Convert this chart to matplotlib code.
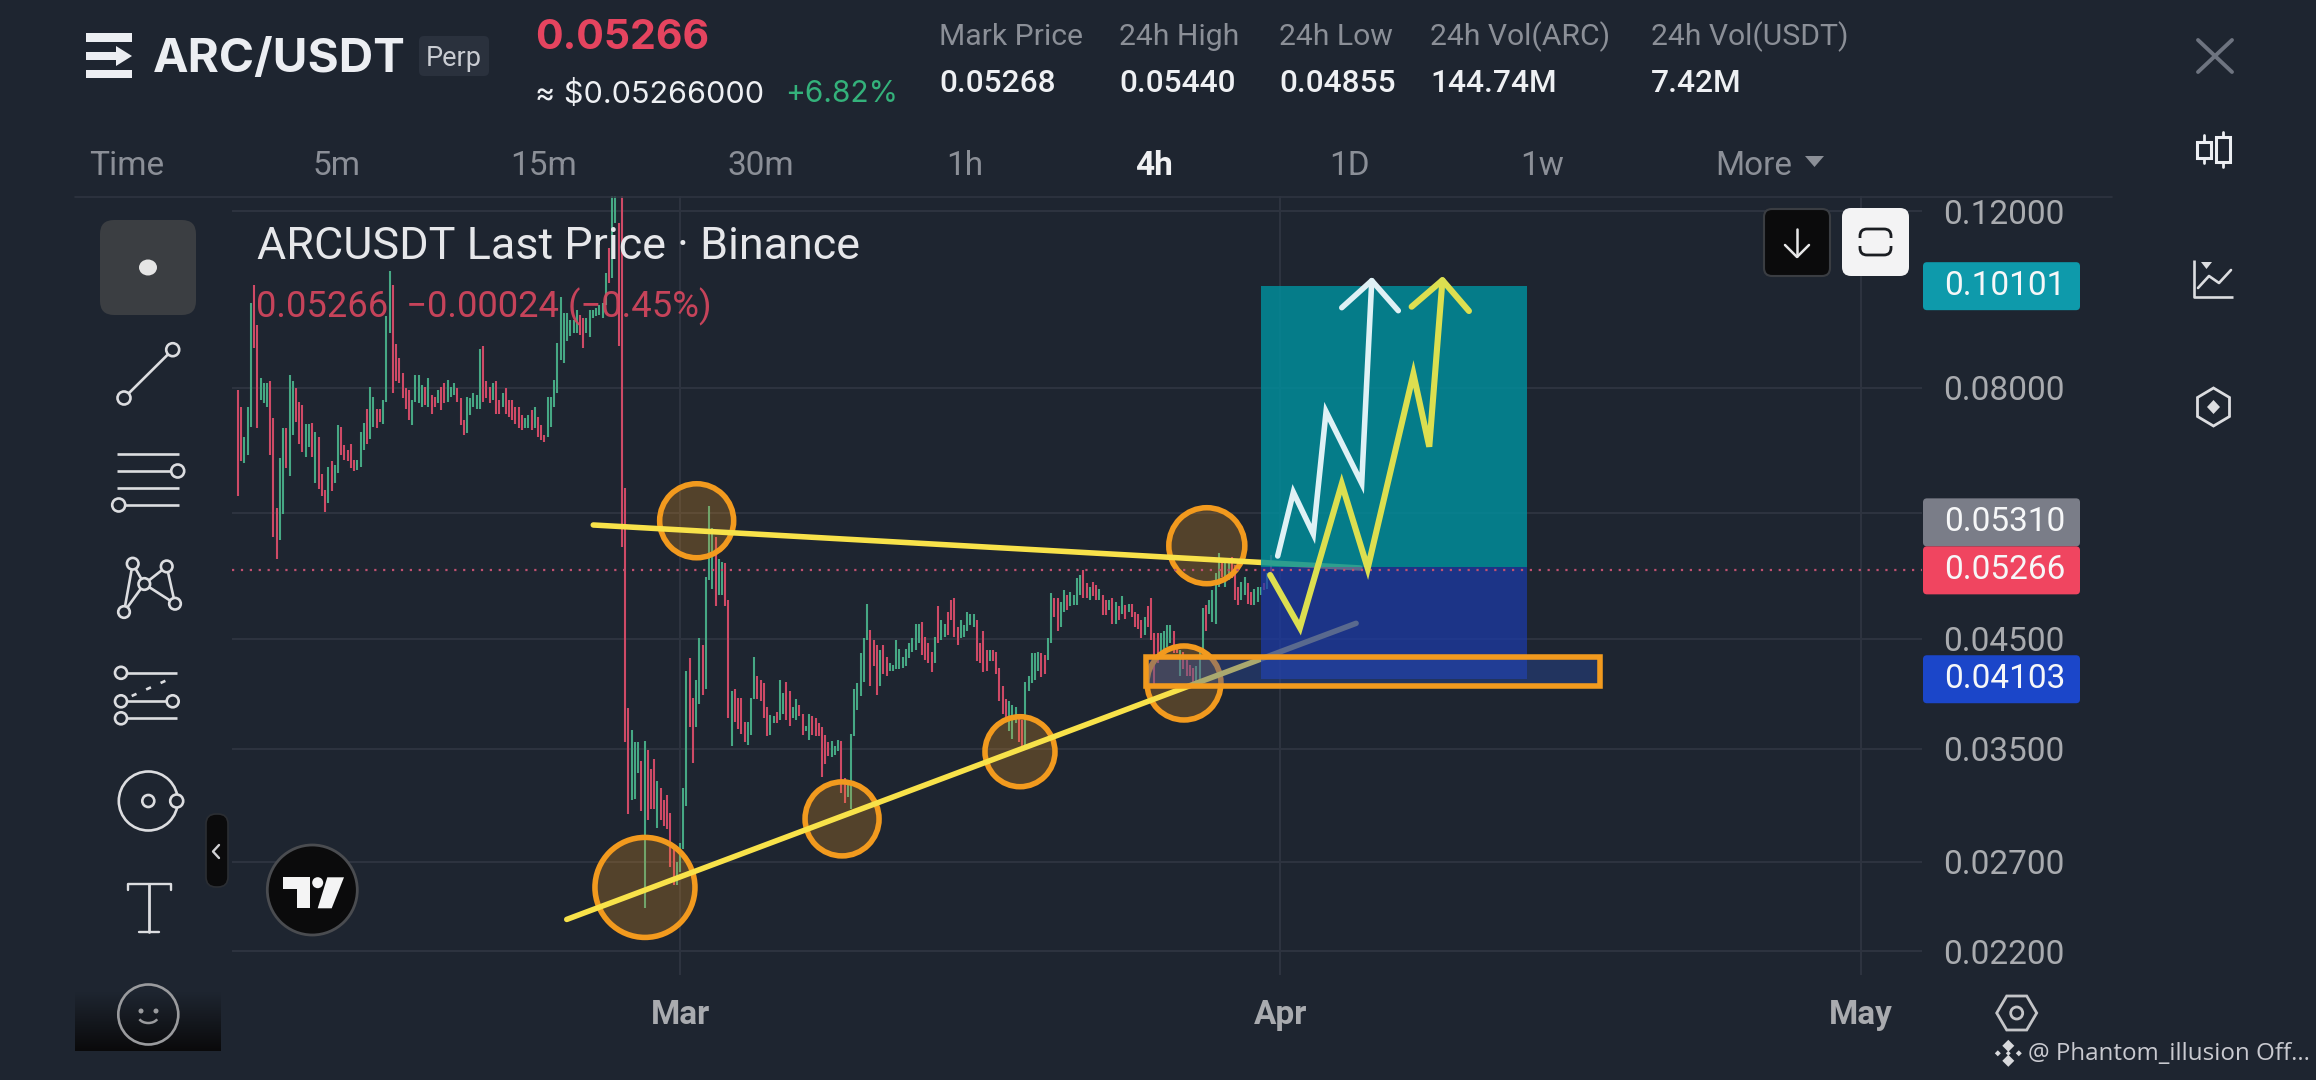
import numpy as np
import matplotlib
matplotlib.use("Agg")
import matplotlib.pyplot as plt
from matplotlib.patches import Circle, Ellipse, FancyBboxPatch, Polygon, Rectangle, Arc

# 4h candles, oldest first
highs = [
    .0796,.0766,.0715,.0766,.0972,.1013,.0925,.0818,.0809,.0809,
    .0812,.0746,.0608,.0681,.0729,.0729,.0824,.0812,.0799,.0775,
    .0769,.0737,.0737,.0739,.0723,.0715,.0656,.0633,.0668,.0676,
    .0670,.0734,.0732,.0702,.0694,.0704,.0678,.0678,.0723,.0739,
    .0763,.0802,.0784,.0763,.0763,.0778,.0943,.1045,.1013,.0884,
    .0857,.0827,.0799,.0796,.0778,.0824,.0824,.0806,.0802,.0818,
    .0787,.0784,.0796,.0802,.0809,.0815,.0802,.0809,.0799,.0781,
    .0743,.0784,.0781,.0790,.0787,.0874,.0880,.0812,.0802,.0809,
    .0812,.0778,.0790,.0799,.0778,.0778,.0766,.0766,.0752,.0746,
    .0752,.0760,.0766,.0749,.0734,.0718,.0784,.0784,.0815,.0887,
    .0986,.0950,.0950,.0935,.0935,.0957,.0946,.0939,.0939,.0957,
    .0957,.0961,.0968,.0972,.1041,.1102,.1300,.1300,.1167,.1300,
    .0636,.0384,.0365,.0355,.0355,.0340,.0356,.0349,.0334,.0342,
    .0325,.0320,.0311,.0315,.0302,.0278,.0270,.0282,.0320,.0418,
    .0431,.0393,.0410,.0451,.0444,.0519,.0610,.0580,.0569,.0541,
    .0537,.0535,.0492,.0399,.0401,.0393,.0393,.0372,.0372,.0393,
    .0432,.0413,.0410,.0407,.0385,.0378,.0377,.0381,.0410,.0398,
    .0408,.0399,.0385,.0392,.0387,.0379,.0369,.0379,.0377,.0375,
    .0371,.0368,.0361,.0355,.0356,.0352,.0357,.0356,.0327,.0325,
    .0362,.0401,.0407,.0436,.0451,.0488,.0459,.0449,.0444,.0439,
    .0444,.0432,.0426,.0424,.0449,.0440,.0432,.0440,.0446,.0451,
    .0466,.0466,.0468,.0452,.0446,.0437,.0452,.0485,.0470,.0466,
    .0479,.0492,.0494,.0463,.0470,.0465,.0479,.0477,.0477,.0470,
    .0446,.0458,.0439,.0439,.0439,.0437,.0421,.0404,.0392,.0390,
    .0387,.0385,.0375,.0374,.0408,.0413,.0436,.0436,.0437,.0436,
    .0434,.0451,.0500,.0494,.0494,.0490,.0503,.0498,.0501,.0498,
    .0517,.0521,.0527,.0511,.0507,.0513,.0509,.0505,.0498,.0492,
    .0492,.0494,.0490,.0485,.0496,.0486,.0488,.0488,.0479,.0477,
    .0470,.0473,.0485,.0494,.0456,.0456,.0456,.0458,.0465,.0465,
    .0458,.0440,.0439,.0437,.0429,.0424,.0421,.0423,.0442,.0483,
    .0486,.0492,.0503,.0523,.0548,.0541,.0539,.0539,.0543,.0533,
    .0507,.0513,.0519,.0511,.0501,.0505,.0507,.0507,.0511,.0523,.0546,
]
lows = [
    .0624,.0676,.0673,.0686,.0732,.0877,.0729,.0778,.0772,.0766,
    .0686,.0568,.0541,.0565,.0599,.0666,.0653,.0718,.0740,.0704,
    .0691,.0683,.0699,.0683,.0643,.0635,.0624,.0602,.0615,.0631,
    .0643,.0658,.0686,.0678,.0676,.0666,.0661,.0663,.0668,.0694,
    .0704,.0712,.0732,.0729,.0740,.0737,.0775,.0908,.0790,.0812,
    .0809,.0781,.0763,.0743,.0734,.0775,.0772,.0766,.0769,.0766,
    .0754,.0766,.0772,.0760,.0772,.0775,.0784,.0787,.0775,.0734,
    .0718,.0721,.0752,.0766,.0763,.0763,.0775,.0781,.0772,.0778,
    .0754,.0754,.0766,.0754,.0749,.0743,.0737,.0729,.0726,.0729,
    .0729,.0726,.0729,.0715,.0710,.0707,.0715,.0732,.0766,.0790,
    .0853,.0847,.0891,.0901,.0908,.0908,.0904,.0877,.0908,.0898,
    .0939,.0943,.0946,.0939,.0968,.1017,.1029,.1167,.0880,.0555,
    .0355,.0301,.0311,.0312,.0331,.0303,.0243,.0297,.0305,.0305,
    .0292,.0297,.0293,.0291,.0267,.0256,.0256,.0264,.0278,.0307,
    .0368,.0339,.0368,.0388,.0396,.0401,.0515,.0505,.0485,.0498,
    .0498,.0485,.0375,.0352,.0372,.0366,.0362,.0355,.0353,.0361,
    .0392,.0392,.0390,.0375,.0360,.0361,.0371,.0371,.0374,.0379,
    .0374,.0369,.0375,.0374,.0377,.0361,.0364,.0357,.0361,.0360,
    .0360,.0328,.0338,.0344,.0343,.0345,.0348,.0316,.0309,.0313,
    .0305,.0360,.0382,.0395,.0408,.0449,.0404,.0423,.0396,.0404,
    .0415,.0413,.0418,.0418,.0420,.0420,.0421,.0423,.0431,.0437,
    .0439,.0446,.0434,.0429,.0426,.0417,.0426,.0446,.0449,.0452,
    .0454,.0470,.0452,.0444,.0451,.0452,.0458,.0465,.0463,.0428,
    .0426,.0417,.0418,.0428,.0428,.0415,.0390,.0379,.0372,.0364,
    .0358,.0371,.0355,.0349,.0352,.0399,.0407,.0410,.0418,.0412,
    .0415,.0429,.0446,.0473,.0458,.0463,.0479,.0481,.0485,.0486,
    .0486,.0498,.0494,.0494,.0492,.0496,.0492,.0492,.0475,.0475,
    .0481,.0466,.0466,.0470,.0477,.0471,.0479,.0473,.0463,.0460,
    .0451,.0454,.0463,.0449,.0404,.0426,.0434,.0437,.0442,.0446,
    .0436,.0436,.0413,.0420,.0413,.0413,.0408,.0408,.0410,.0436,
    .0458,.0477,.0468,.0466,.0507,.0519,.0507,.0515,.0517,.0492,
    .0486,.0492,.0498,.0488,.0486,.0486,.0490,.0498,.0503,.0505,.0521,
]
# u = up candle, d = down candle
directions = (
    "dd uuu dd uuu  ddd uu d uu dd  d uu d u ddd u d  uu ddddd uuu  d uu dd uuu dd "
    "dddd uuuu d u  dd u dd uuu dd  d uuuuu ddd u  dd u dddddd u  u d u ddd uuuu "
    "uuuuuu dd uu  uuuuu d uu dd  dd uuu d u ddd  u ddddd uuuu  dd uu d uuu d u "
    "u dd u dddd uu  u dddd uu d uu  dd uu dd uu dd  dddd uuu dd u  uuuuuu ddd u "
    "dd uuuuuuuu  uu dddd u d uu  dddd uuuuu d  ddd u ddddd u  uu dd uuuuu d "
    "d uu dd uu d uu  uu dd u dd u dd  u d u d u d u ddd  d u dddd uuuu "
    "dd u dddd uuu  d uuuu d uu dd  d uu dd uuu d u d"
).replace(" ", "")

# price levels
price_ticks = [0.12, 0.08, 0.06, 0.045, 0.035, 0.027, 0.022]
tick_labels = ["0.12000", "0.08000", "", "0.04500", "0.03500", "0.02700", "0.02200"]
last_price = 0.05266
entry_price = 0.05310
target_price = 0.10101
stop_price = 0.04103

# x axis is days since 1 Mar
month_days = [0, 31, 61]
month_names = ["Mar", "Apr", "May"]
last_candle_day = 30.5
xlim_days = (-23.14, 64.15)
ylim_prices = (0.02083, 0.1242)

# drawings on the chart (day, price)
resist_days = [-4.48, 35.12]
resist_prices = [0.05843, 0.05295]
support_days = [-5.85, 34.92]
support_prices = [0.02366, 0.04664]
circle_days = [0.86, -1.81, 8.37, 17.56, 27.21, 26.03]
circle_prices = [0.0590, 0.02546, 0.02979, 0.03475, 0.05572, 0.04068]
circle_radii_px = [37, 50, 37, 35, 38, 37]
box_days = (30.0, 43.73)
zone_days = (24.05, 47.52)
zone_prices = (0.0404, 0.0432)
white_days = [30.87, 31.68, 32.71, 33.37, 35.21, 35.73]
white_prices = [0.05442, 0.06298, 0.05724, 0.07576, 0.06429, 0.1023]
white_head_days = [34.18, 35.73, 37.10]
white_head_prices = [0.09615, 0.1023, 0.09549]
yellow_days = [30.48, 32.02, 34.18, 35.52, 37.88, 38.70, 39.38]
yellow_prices = [0.0521, 0.04618, 0.06419, 0.05291, 0.0826, 0.06991, 0.1024]
yellow_head_days = [37.79, 39.38, 40.75]
yellow_head_prices = [0.09637, 0.1024, 0.09542]

BG = "#1e2530"
GRID = "#2e3440"
GREEN = "#46a884"
RED = "#cf4a66"
ICON = "#dcdde0"
LABEL = "#8b8f97"
AXIS = "#a9abaf"
ORANGE = "#f29a1e"
YELLOW = "#f8e24a"

W, H = 2316, 1080
fig = plt.figure(figsize=(W / 100, H / 100), dpi=100, facecolor=BG)

# price chart
ax = fig.add_axes([232 / W, (H - 975) / H, (1922 - 232) / W, (975 - 196) / H], facecolor=BG)
ax.set_yscale("log")
ax.set_xlim(*xlim_days)
ax.set_ylim(*ylim_prices)
for s in ax.spines.values():
    s.set_visible(False)
ax.minorticks_off()
ax.set_yticks(price_ticks)
ax.set_yticklabels(tick_labels, family="Roboto", fontsize=24, color=AXIS)
ax.yaxis.tick_right()
ax.set_xticks(month_days)
ax.set_xticklabels(month_names, family="Roboto", fontsize=24, color=AXIS, fontweight="bold")
ax.tick_params(axis="y", length=0, pad=15.5, which="both")
ax.tick_params(axis="x", length=0, pad=17)
ax.grid(True, color=GRID, lw=1.4, zorder=1)
ax.set_axisbelow(True)

n = len(highs)
days = last_candle_day - (n - 1 - np.arange(n)) / 6
colors = [GREEN if d == "u" else RED for d in directions]
ax.vlines(days, lows, highs, colors=colors, lw=1.5, zorder=2)

sizes = [(2 * r * 0.72) ** 2 for r in circle_radii_px]
ax.scatter(circle_days, circle_prices, s=sizes, facecolors=(0.95, 0.6, 0.12, 0.25),
           edgecolors=ORANGE, linewidths=4.0, zorder=3)
ax.plot(resist_days, resist_prices, color=YELLOW, lw=4.0, solid_capstyle="round", zorder=4)
ax.plot(support_days, support_prices, color=YELLOW, lw=4.0, solid_capstyle="round", zorder=4)

# long position tool
ax.add_patch(Rectangle((box_days[0], entry_price), box_days[1] - box_days[0], target_price - entry_price,
                       facecolor="#00909e", alpha=0.82, lw=0, zorder=5))
ax.add_patch(Rectangle((box_days[0], stop_price), box_days[1] - box_days[0], entry_price - stop_price,
                       facecolor="#1c3aa9", alpha=0.72, lw=0, zorder=5))
ax.axhline(last_price, color="#c05070", lw=1.6, ls=(0, (1, 3)), zorder=5.2)
ax.add_patch(Rectangle((zone_days[0], zone_prices[0]), zone_days[1] - zone_days[0], zone_prices[1] - zone_prices[0],
                       facecolor=(0.17, 0.3, 0.68, 0.38), edgecolor=ORANGE, lw=4.0, zorder=5.5))

ax.plot(white_days, white_prices, color="#dff1f5", lw=4.0, solid_capstyle="round", solid_joinstyle="miter", zorder=6)
ax.plot(white_head_days, white_head_prices, color="#dff1f5", lw=4.0, solid_capstyle="round", zorder=6)
ax.plot(yellow_days, yellow_prices, color="#dcdf50", lw=4.4, solid_capstyle="round", solid_joinstyle="miter", zorder=6)
ax.plot(yellow_head_days, yellow_head_prices, color="#dcdf50", lw=4.4, solid_capstyle="round", zorder=6)

# app furniture, in screen pixels
ui = fig.add_axes([0, 0, 1, 1], facecolor="none", zorder=10)
ui.set_xlim(0, W)
ui.set_ylim(H, 0)
ui.axis("off")


def label(x, y, s, size, color, family="Roboto", ha="left", weight="normal", alpha=None):
    ui.text(x, y, s, fontsize=size, color=color, family=family, ha=ha, va="center",
            fontweight=weight, alpha=alpha)


def rounded(x0, y0, x1, y1, r, face, edge="none", lw=0.0, zorder=2):
    ui.add_patch(FancyBboxPatch((x0, y0), x1 - x0, y1 - y0, boxstyle=f"round,pad=0,rounding_size={r}",
                                facecolor=face, edgecolor=edge, lw=lw, zorder=zorder))


def seg(xs, ys, color=ICON, lw=1.9, **kw):
    ui.plot(xs, ys, color=color, lw=lw, solid_capstyle=kw.pop("cap", "round"), **kw)


def ring(x, y, r=6.5):
    ui.add_patch(Circle((x, y), r, facecolor=BG, edgecolor=ICON, lw=1.9, zorder=4))


def hexagon(x, y, rx, ry, pointy=True, lw=2.0, color=ICON):
    if pointy:
        xs = [x, x + rx, x + rx, x, x - rx, x - rx]
        ys = [y - ry, y - ry / 2, y + ry / 2, y + ry, y + ry / 2, y - ry / 2]
    else:
        xs = [x - rx, x - rx / 2, x + rx / 2, x + rx, x + rx / 2, x - rx / 2]
        ys = [y, y - ry, y - ry, y, y + ry, y + ry]
    ui.add_patch(Polygon(list(zip(xs, ys)), closed=True, facecolor="none", edgecolor=color, lw=lw))


def py(price):
    return ui.transData.inverted().transform(ax.transData.transform((0, price)))[1]


# header
for y0, y1, x1 in [(33, 42, 132), (52, 60, 116), (70, 78, 132)]:
    ui.add_patch(Rectangle((86, y0), x1 - 86, y1 - y0, facecolor="#eceef2", lw=0))
ui.add_patch(Polygon([(116, 46), (132, 56), (116, 66)], closed=True, facecolor="#eceef2", lw=0))
label(153, 60, "ARC/USDT", 34.3, "#eceef2", family="Inter", weight="bold")
rounded(419, 36, 489, 76, 5, "#2a313d")
label(454, 58, "Perp", 19.5, "#c9ccd2", ha="center")
label(535, 38, "0.05266", 29.5, "#e5445f", family="Inter", weight="bold")
label(535, 94, "≈ $0.05266000", 22, "#eef0f3", family="Inter")
label(785, 94, "+6.82%", 21.5, "#34b27b", family="Inter")

stat_x = [939, 1119, 1279, 1430, 1651]
stat_names = ["Mark Price", "24h High", "24h Low", "24h Vol(ARC)", "24h Vol(USDT)"]
stat_values = ["0.05268", "0.05440", "0.04855", "144.74M", "7.42M"]
for x, name, value in zip(stat_x, stat_names, stat_values):
    label(x, 37, name, 21.7, LABEL)
    label(x, 83, value, 22.8, "#eef0f3", weight="medium")

seg([2198, 2232], [40, 72], color="#6e7480", lw=2.8)
seg([2198, 2232], [72, 40], color="#6e7480", lw=2.8)

# timeframe row
label(89, 166, "Time", 24, LABEL)
tf_x = [337, 544, 761, 965, 1349, 1542]
tf_names = ["5m", "15m", "30m", "1h", "1D", "1w"]
for x, name in zip(tf_x, tf_names):
    label(x, 166, name, 24, LABEL, ha="center")
label(1154, 166, "4h", 24, "#f0f1f3", ha="center", weight="bold")
label(1715, 166, "More", 24, LABEL)
ui.add_patch(Polygon([(1805, 156), (1824, 156), (1814.5, 167)], closed=True, facecolor=LABEL, lw=0))
seg([75, 2112], [197, 197], color=GRID, lw=1.2)

# right rail
for cx, y0, y1, b0, b1 in [(2204, 135, 163, 142, 158), (2223, 132, 167, 137, 162)]:
    seg([cx, cx], [y0, b0], lw=2.0, color="#eceef2")
    seg([cx, cx], [b1, y1], lw=2.0, color="#eceef2")
    ui.add_patch(Rectangle((cx - 7, b0), 14, b1 - b0, facecolor="none", edgecolor="#eceef2", lw=2.2))
seg([2194, 2194, 2233], [260, 297, 297], cap="butt")
seg([2198, 2209, 2219, 2231], [288, 276, 283, 270])
ui.add_patch(Polygon([(2201, 262), (2212, 262), (2206.5, 269)], closed=True, facecolor=ICON, lw=0))
hexagon(2213.5, 407, 16, 19)
ui.add_patch(Polygon([(2213.5, 400), (2220, 407), (2213.5, 414), (2207, 407)], closed=True, facecolor=ICON, lw=0))

# chart overlay texts and buttons
label(257, 247, "ARCUSDT Last Price · Binance", 32.3, "#e6e7ea")
label(256, 307, "0.05266  −0.00024 (−0.45%)", 26.2, "#d9475f", alpha=0.9)
rounded(1764, 209, 1830, 276, 8, "#0b0b0c", edge="#3a3d42", lw=1.5)
seg([1797, 1797], [229, 256], lw=1.8, color="#e8e8e8")
seg([1785, 1797, 1809], [245, 257, 245], lw=1.8, color="#e8e8e8")
rounded(1842, 208, 1909, 276, 9, "#f3f3f4")
ui.add_patch(FancyBboxPatch((1860, 229), 31, 26, boxstyle="round,pad=0,rounding_size=7",
                            facecolor="none", edgecolor="#1a1d22", lw=2.0, zorder=3))
ui.add_patch(Rectangle((1854, 238), 44, 8, facecolor="#f3f3f4", lw=0, zorder=4))

# price badges
badges = [
    (py(target_price), "0.10101", "#0e9aab"),
    (py(last_price) - 48, "0.05310", "#7a7d88"),
    (py(last_price), "0.05266", "#f04560"),
    (py(stop_price), "0.04103", "#1b46c9"),
]
for yc, s, face in badges:
    rounded(1923, yc - 24, 2080, yc + 24, 4, face, zorder=5)
    ui.text(1944, yc, s, fontsize=24, color="#f6f7f8", family="Roboto", ha="left", va="center", zorder=6)

# drawing toolbar
rounded(100, 220, 196, 315, 14, "#3b3e42")
ui.add_patch(Ellipse((148, 267.5), 18, 16, facecolor="#e5e5e5", lw=0, zorder=3))
seg([124, 172.7], [398, 349.7])
ring(172.7, 349.7)
ring(124, 398)
for y in [454, 471, 488, 505]:
    seg([117, 179], [y, y], cap="butt")
ring(177.7, 471)
ring(118.7, 505)
xabcd = [(124, 612), (132.7, 563.7), (144.3, 584), (166.7, 566.4), (175, 603.7), (144.3, 584), (124, 612)]
seg([p[0] for p in xabcd], [p[1] for p in xabcd])
for p in xabcd[:5]:
    ring(p[0], p[1], 5.8)
for y in [672.8, 701.3, 718.3]:
    seg([121, 176.7], [y, y], cap="butt")
seg([131.7, 171.7], [696, 678], ls=(0, (2, 4)))
for x, y in [(121, 672.8), (121, 701.3), (172.7, 701.3), (121, 718.3)]:
    ring(x, y, 6)
ui.add_patch(Circle((148.3, 801), 29.5, facecolor="none", edgecolor=ICON, lw=1.9))
ring(148.3, 801, 6)
ring(176.7, 801, 6.5)
seg([128, 128, 170.7, 170.7], [890, 883.5, 883.5, 890], lw=1.7)
seg([149, 149], [883.5, 932], lw=2.0)
seg([139, 159], [932, 932], lw=1.7)
ui.imshow(np.linspace(0, 1, 64).reshape(-1, 1), extent=(75, 221, 1051, 992), aspect="auto", zorder=1,
          cmap=matplotlib.colors.LinearSegmentedColormap.from_list("fade", [BG, "#0a0a0b"]))
ui.set_xlim(0, W)
ui.set_ylim(H, 0)
ui.add_patch(Circle((148.3, 1014.5), 30, facecolor="none", edgecolor="#9a9b9e", lw=1.9, zorder=3))
ui.add_patch(Circle((141, 1011), 2.5, facecolor="#9a9b9e", lw=0, zorder=3))
ui.add_patch(Circle((156, 1011), 2.5, facecolor="#9a9b9e", lw=0, zorder=3))
ui.add_patch(Arc((148.3, 1016), 20, 14, theta1=20, theta2=160, edgecolor="#9a9b9e", lw=1.8, zorder=3))
rounded(206, 814, 228, 887, 10, "#0b0b0c", edge="#2b2e33", lw=1.2)
seg([219, 213, 219], [845, 851.5, 858], lw=1.7, color="#cfd0d3", zorder=4)

# tradingview badge
ui.add_patch(Circle((312.3, 890), 45, facecolor="#0b0b0c", edgecolor="#4a4c50", lw=2.0))
ui.add_patch(Polygon([(283.3, 877.3), (310, 877.3), (310, 908.3), (296.7, 908.3), (296.7, 889.3), (283.3, 889.3)],
                     closed=True, facecolor="#f4f4f4", lw=0))
ui.add_patch(Circle((317.7, 882.7), 5.5, facecolor="#f4f4f4", lw=0))
ui.add_patch(Polygon([(327.3, 877.3), (344, 877.3), (331.7, 908.3), (317.7, 908.3)], closed=True,
                     facecolor="#f4f4f4", lw=0))

# footer
hexagon(2016.7, 1013, 20, 17, pointy=False, color="#c4c5c8")
ui.add_patch(Circle((2016.7, 1013), 6, facecolor="none", edgecolor="#c4c5c8", lw=2.0))
for dx, dy, r in [(0, -7.5, 6), (-10.5, 0, 3), (10.5, 0, 3), (0, 7.5, 6), (0, 0, 2.5)]:
    cx, cy = 2008.3 + dx, 1053.3 + dy
    ui.add_patch(Polygon([(cx, cy - r), (cx + r, cy), (cx, cy + r), (cx - r, cy)], closed=True,
                         facecolor="#d8d9dc", lw=0))
label(2028, 1054, "@ Phantom_illusion Off...", 17.4, "#c9cad0", family="Open Sans")

fig.savefig("out.png", dpi=100, facecolor=BG)
